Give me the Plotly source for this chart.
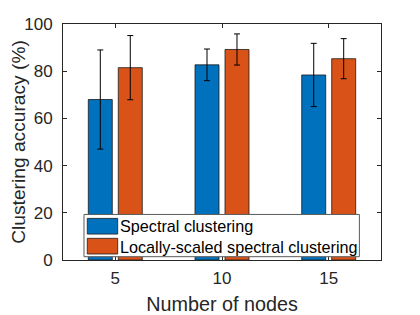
import plotly.graph_objects as go

nodes = [5, 10, 15]
spectral = [68.0, 82.7, 78.4]
spectral_err = [21.0, 6.7, 13.4]
local = [81.5, 89.2, 85.3]
local_err = [13.6, 6.6, 8.5]
y_ticks = [0, 20, 40, 60, 80, 100]
series_names = ["Spectral clustering", "Locally-scaled spectral clustering"]
series_colors = ["#0072BD", "#D95319"]

font_fam = "Liberation Sans, Arial, Helvetica, sans-serif"
axis_col = "#262626"
edge_col = "#1a1a1a"

fig = go.Figure()
for name, vals, errs, col in zip(series_names, [spectral, local],
                                 [spectral_err, local_err], series_colors):
    fig.add_trace(go.Bar(
        x=nodes, y=vals, name=name,
        marker=dict(color=col, line=dict(color=edge_col, width=0.8)),
        error_y=dict(type="data", array=errs, color="black", thickness=1, width=3),
    ))

# Custom legend (MATLAB style) drawn in axis-domain coordinates
shapes = [dict(type="rect", xref="x domain", yref="y domain",
               x0=0.066, x1=0.932, y0=0.014, y1=0.193,
               fillcolor="white", line=dict(color="#5a5a5a", width=1), layer="above")]
annotations = []
rows = [(0.1099, 0.1763, 0.1438), (0.0254, 0.0918, 0.0571)]
for (y0, y1, yc), name, col in zip(rows, series_names, series_colors):
    shapes.append(dict(type="rect", xref="x domain", yref="y domain",
                       x0=0.0764, x1=0.172, y0=y0, y1=y1,
                       fillcolor=col, line=dict(color=edge_col, width=0.8), layer="above"))
    annotations.append(dict(xref="x domain", yref="y domain", x=0.1745, y=yc,
                            xanchor="left", yanchor="middle", showarrow=False,
                            text=name, font=dict(size=16.2, color="black")))

fig.update_layout(
    width=420, height=315,
    margin=dict(l=55, r=47, t=15.5, b=63, autoexpand=False),
    paper_bgcolor="white", plot_bgcolor="white",
    barmode="group", bargap=0.438, bargroupgap=0.2,
    font=dict(family=font_fam, color=axis_col, size=17),
    showlegend=False,
    shapes=shapes, annotations=annotations,
)
fig.update_xaxes(
    range=[2.55, 17.45], tickvals=nodes, ticktext=[str(n) for n in nodes],
    ticks="inside", ticklen=4, tickcolor=axis_col,
    showline=True, linecolor=axis_col, linewidth=1, mirror="ticks",
    showgrid=False, zeroline=False, automargin=False,
    ticklabelstandoff=3,
    title=dict(text="Number of nodes", font=dict(size=19.8), standoff=9),
    tickfont=dict(size=17),
)
fig.update_yaxes(
    range=[0, 100], tickvals=y_ticks,
    ticks="inside", ticklen=4, tickcolor=axis_col,
    showline=True, linecolor=axis_col, linewidth=1, mirror="ticks",
    showgrid=False, zeroline=False, automargin=False,
    ticklabelstandoff=6,
    title=dict(text="Clustering accuracy (%)", font=dict(size=19.2), standoff=6),
    tickfont=dict(size=17),
)

fig.write_html("out.html")
